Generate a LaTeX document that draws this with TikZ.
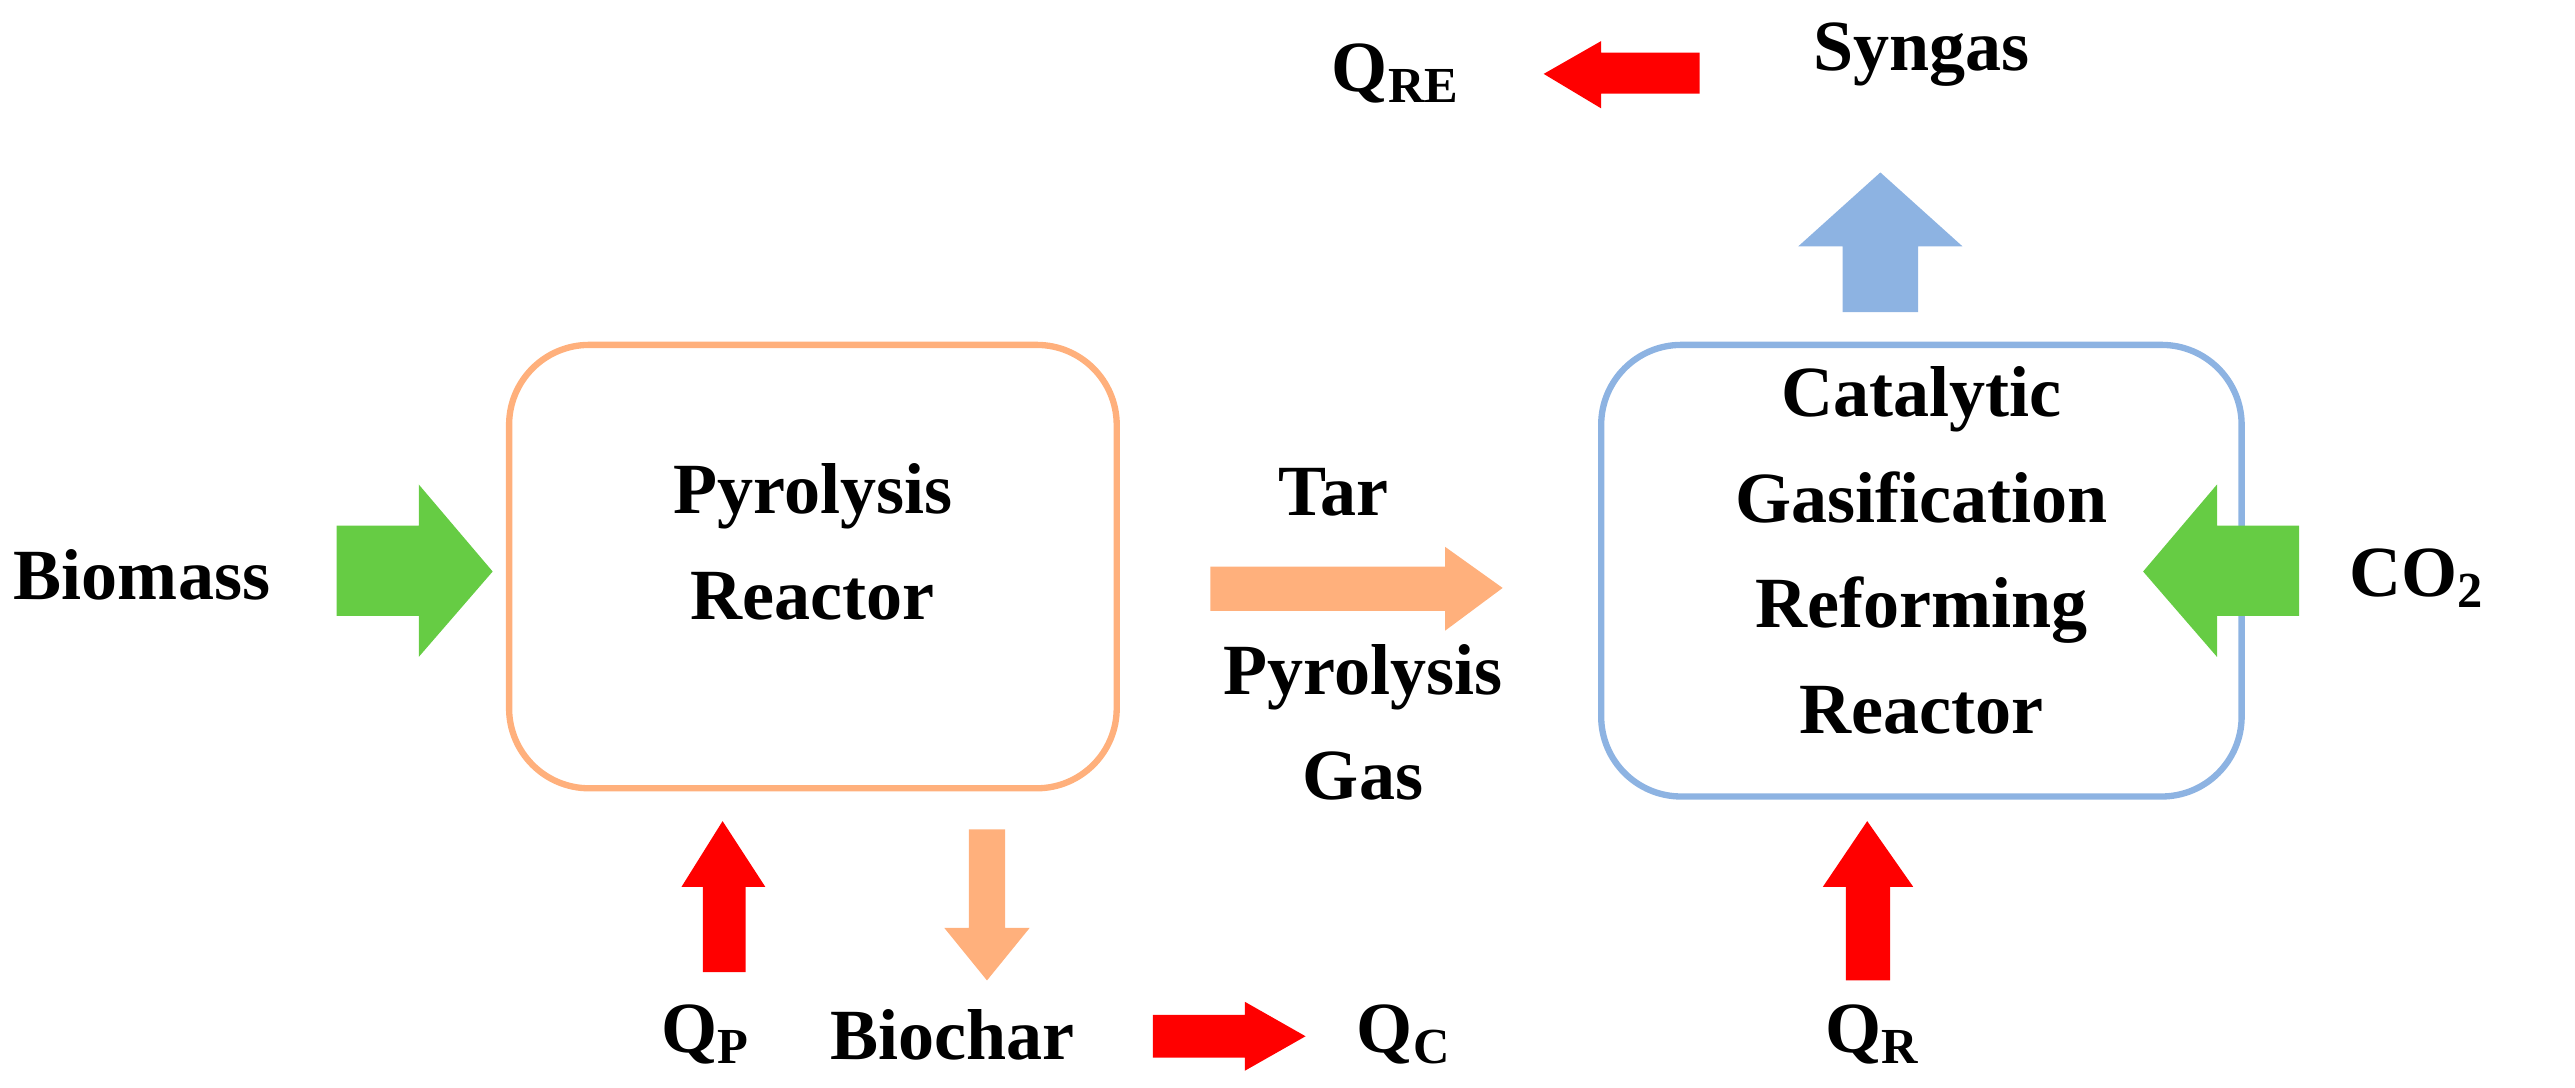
\documentclass[tikz,border=0pt]{standalone}
\usepackage{fontspec}
\setmainfont{Liberation Serif}
\definecolor{grn}{HTML}{66CC44}
\definecolor{org}{HTML}{FFB07C}
\definecolor{blu}{HTML}{8DB3E2}
\definecolor{rd}{HTML}{FF0000}
\begin{document}
\begin{tikzpicture}[x=0.01642cm,y=-0.01642cm,
  lbl/.style={font=\fontsize{20.5}{24}\selectfont\bfseries,align=center,inner sep=0pt},
  box/.style={rounded corners=0.8cm,line width=1.8pt}]
\useasboundingbox (0,0) rectangle (1568,662);
\draw[box,draw=org] (310,210) rectangle (680,480);
\draw[box,draw=blu] (975,210) rectangle (1365,485);
\node[lbl] (pyr) at (495,330) {Pyrolysis\\[6pt]Reactor};
\node[lbl] (cat) at (1170,335) {Catalytic\\[6pt]Gasification\\[6pt]Reforming\\[6pt]Reactor};
\node[lbl,anchor=west] (bio) at (8,350) {Biomass};
\node[lbl,anchor=west] (co2) at (1430,352) {CO\textsubscript{2}};
\node[lbl] (tar) at (812,300) {Tar};
\node[lbl] (pg) at (830,440) {Pyrolysis\\[6pt]Gas};
\node[lbl] (syn) at (1170,33) {Syngas};
\node[lbl] (qre) at (850,45) {Q\textsubscript{RE}};
\node[lbl] (qp) at (430,630) {Q\textsubscript{P}};
\node[lbl] (bc) at (580,630) {Biochar};
\node[lbl] (qc) at (855,630) {Q\textsubscript{C}};
\node[lbl] (qr) at (1140,630) {Q\textsubscript{R}};
% biomass arrow
\fill[grn] (205,320)--(255,320)--(255,295)--(300,348)--(255,400)--(255,375)--(205,375)--cycle;
% co2 arrow
\fill[grn] (1400,320)--(1350,320)--(1350,295)--(1305,348)--(1350,400)--(1350,375)--(1400,375)--cycle;
% tar arrow
\fill[org] (737,345)--(880,345)--(880,333)--(915,358)--(880,384)--(880,372)--(737,372)--cycle;
% syngas arrow
\fill[blu] (1122,190)--(1122,150)--(1095,150)--(1145,105)--(1195,150)--(1168,150)--(1168,190)--cycle;
% QRE arrow
\fill[rd] (1035,32)--(975,32)--(975,25)--(940,45)--(975,66)--(975,57)--(1035,57)--cycle;
% QP arrow
\fill[rd] (428,592)--(428,540)--(415,540)--(440,500)--(466,540)--(454,540)--(454,592)--cycle;
% biochar arrow
\fill[org] (590,505)--(590,565)--(575,565)--(601,597)--(627,565)--(612,565)--(612,505)--cycle;
% QC arrow
\fill[rd] (702,618)--(758,618)--(758,610)--(795,631)--(758,652)--(758,644)--(702,644)--cycle;
% QR arrow
\fill[rd] (1124,597)--(1124,540)--(1110,540)--(1137,500)--(1165,540)--(1151,540)--(1151,597)--cycle;
\end{tikzpicture}
\end{document}
